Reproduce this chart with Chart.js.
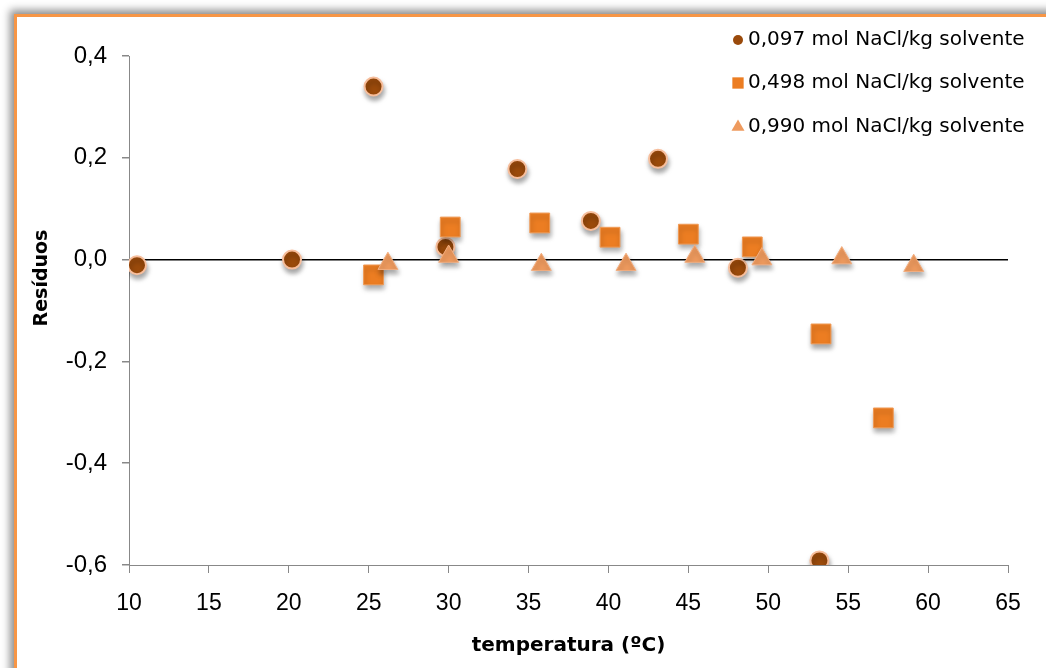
<!DOCTYPE html>
<html>
<head>
<meta charset="utf-8">
<script src="https://cdn.jsdelivr.net/npm/chart.js@4/dist/chart.umd.min.js"></script>
<style>
  html, body { margin: 0; padding: 0; background: #fff; overflow: hidden; }
  #frame {
    position: absolute; left: 14px; top: 14px; width: 1100px; height: 720px;
    border-top: 3px solid #F79646; border-left: 3px solid #F79646;
    box-shadow: -4px -4px 8px rgba(0, 0, 0, 0.45);
    background: #fff;
  }
  #wrap { position: absolute; left: 0; top: 0; width: 1046px; height: 668px; }
</style>
</head>
<body>
<div id="frame"></div>
<div id="wrap"><canvas id="chart"></canvas></div>
<script>
// Residuals vs temperature, three NaCl molalities

const seriesLabels = [
  '0,097 mol NaCl/kg solvente',
  '0,498 mol NaCl/kg solvente',
  '0,990 mol NaCl/kg solvente',
];

const tempLow = [10.5, 20.2, 25.3, 29.8, 34.3, 38.9, 43.1, 48.1, 53.2];
const resLow = [-0.011, 0.0, 0.340, 0.025, 0.178, 0.076, 0.198, -0.016, -0.591];

const tempMid = [25.3, 30.1, 35.7, 40.1, 45.0, 49.0, 53.3, 57.2];
const resMid = [-0.030, 0.064, 0.072, 0.044, 0.050, 0.025, -0.146, -0.311];

const tempHigh = [26.2, 30.0, 35.8, 41.1, 45.4, 49.6, 54.6, 59.1];
const resHigh = [-0.008, 0.006, -0.010, -0.010, 0.006, 0.001, 0.003, -0.012];

const xTicks = { min: 10, max: 65, step: 5 };
const yTicks = { min: -0.6, max: 0.4, step: 0.2 };

function toPoints(xs, ys) {
  return xs.map((x, i) => ({ x: x, y: ys[i] }));
}

function comma(v) {
  return v.toFixed(1).replace('.', ',');
}

const markerStyles = [
  { pointStyle: 'circle', radius: 9, fill: '#9A4A0B', border: '#F7BE9C', borderWidth: 2, legendRadius: 5 },
  { pointStyle: 'rect', radius: 14, fill: '#EC7D22', border: '#F09A55', borderWidth: 1, legendRadius: 8 },
  { pointStyle: 'triangle', radius: 11.5, fill: '#EE9A5E', border: '#F2AE80', borderWidth: 1, legendRadius: 7.5 },
];

// soft drop shadow under the markers
const shadowPlugin = {
  id: 'markerShadow',
  beforeDatasetsDraw(chart) {
    const ctx = chart.ctx;
    ctx.save();
    ctx.shadowColor = 'rgba(0, 0, 0, 0.35)';
    ctx.shadowBlur = 5;
    ctx.shadowOffsetX = 1;
    ctx.shadowOffsetY = 4;
  },
  afterDatasetsDraw(chart) {
    chart.ctx.restore();
  },
};

// legend in the top right corner and the y axis title
const extrasPlugin = {
  id: 'extras',
  afterDraw(chart) {
    const ctx = chart.ctx;
    ctx.save();
    const rows = [40, 83, 127];
    seriesLabels.forEach((label, i) => {
      const s = markerStyles[i];
      ctx.fillStyle = s.fill;
      ctx.strokeStyle = s.fill;
      ctx.lineWidth = 0;
      Chart.helpers.drawPoint(ctx, { pointStyle: s.pointStyle, radius: s.legendRadius, rotation: 0, borderWidth: 0 }, 738, rows[i]);
      ctx.fillStyle = '#000';
      ctx.font = '20px "DejaVu Sans"';
      ctx.textAlign = 'left';
      ctx.textBaseline = 'middle';
      ctx.fillText(label, 748, rows[i]);
    });

    ctx.translate(42, 278);
    ctx.rotate(-Math.PI / 2);
    ctx.font = 'bold 19px "DejaVu Sans"';
    ctx.textAlign = 'center';
    ctx.textBaseline = 'middle';
    ctx.fillStyle = '#000';
    ctx.fillText('Resíduos', 0, 0);
    ctx.restore();
  },
};

const datasets = [
  toPoints(tempLow, resLow),
  toPoints(tempMid, resMid),
  toPoints(tempHigh, resHigh),
].map((data, i) => ({
  label: seriesLabels[i],
  data: data,
  pointStyle: markerStyles[i].pointStyle,
  pointRadius: markerStyles[i].radius,
  pointHoverRadius: markerStyles[i].radius,
  backgroundColor: markerStyles[i].fill,
  borderColor: markerStyles[i].border,
  borderWidth: markerStyles[i].borderWidth,
}));

const config = {
  type: 'scatter',
  data: { datasets: datasets.slice().reverse() },
  options: {
    responsive: true,
    maintainAspectRatio: false,
    animation: false,
    events: [],
    layout: { padding: { top: 56, right: 38, left: 0, bottom: 0 } },
    scales: {
      x: {
        type: 'linear',
        min: xTicks.min,
        max: xTicks.max,
        afterFit(scale) { scale.height = 103; },
        ticks: {
          stepSize: xTicks.step,
          color: '#000',
          padding: 17,
          font: { family: '"Liberation Sans"', size: 23 },
        },
        grid: { drawOnChartArea: false, tickLength: 8, tickColor: '#888' },
        border: { display: true, color: '#888' },
        title: {
          display: true,
          text: 'temperatura (ºC)',
          color: '#000',
          font: { family: '"DejaVu Sans"', size: 20, weight: 'bold' },
          padding: { top: 0, bottom: 10 },
        },
      },
      y: {
        type: 'linear',
        min: yTicks.min,
        max: yTicks.max,
        afterFit(scale) { scale.width = 129; },
        ticks: {
          stepSize: yTicks.step,
          color: '#000',
          padding: 15,
          font: { family: '"Liberation Sans"', size: 24 },
          callback: (v) => comma(v),
        },
        grid: {
          tickLength: 7,
          lineWidth: 1.5,
          color: (ctx) => (ctx.tick && Math.abs(ctx.tick.value) < 1e-9 ? '#000' : 'rgba(0,0,0,0)'),
          tickColor: '#888',
        },
        border: { display: true, color: '#888' },
      },
    },
    plugins: {
      legend: { display: false },
      tooltip: { enabled: false },
    },
  },
  plugins: [shadowPlugin, extrasPlugin],
};

new Chart(document.getElementById('chart'), config);
</script>
</body>
</html>
